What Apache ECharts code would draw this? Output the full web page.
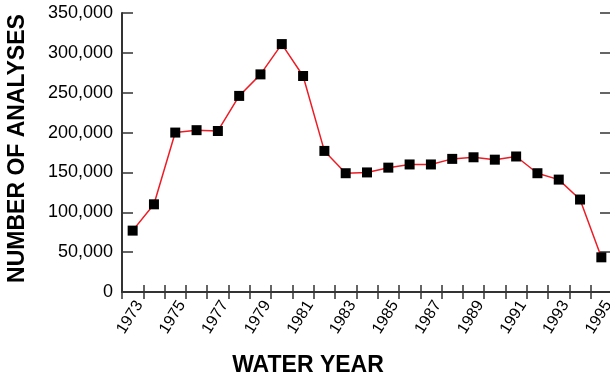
<!DOCTYPE html>
<html>
<head>
<meta charset="utf-8">
<script src="https://cdn.jsdelivr.net/npm/echarts@6/dist/echarts.min.js"></script>
<style>
  html, body { margin: 0; padding: 0; background: #fff; }
  #chart { width: 610px; height: 376px; }
</style>
</head>
<body>
<div id="chart"></div>
<script>
// water years 1973..1995
var years = ["1973", "1974", "1975", "1976", "1977", "1978", "1979", "1980",
  "1981", "1982", "1983", "1984", "1985", "1986", "1987", "1988", "1989",
  "1990", "1991", "1992", "1993", "1994", "1995"];
// number of analyses per year
var analyses = [77000, 110000, 200000, 203000, 202000, 246000, 273000, 311000,
  271000, 177000, 149000, 150000, 156000, 160000, 160000, 167000, 169000,
  166000, 170000, 149000, 141000, 116000, 43500];

var font = "'Liberation Sans', Arial, sans-serif";
var frame = { show: true, lineStyle: { color: "#333", width: 2 } };

var myChart = echarts.init(document.getElementById("chart"));
myChart.setOption({
  animation: false,
  grid: { left: 122, right: -2, top: 13, bottom: 84, outerBoundsMode: "none", containLabel: false },
  xAxis: [
    {
      type: "category",
      data: years,
      position: "bottom",
      name: "WATER YEAR",
      nameLocation: "middle",
      nameGap: 62,
      nameTextStyle: {
        fontFamily: font, fontSize: 23, fontWeight: "bold", color: "#000",
        padding: [0, 118, 0, 0] // title is centred on the page, not on the plot
      },
      axisLine: frame,
      axisTick: { show: true, inside: true, length: 7, interval: 0, lineStyle: { color: "#333", width: 1.5 } },
      axisLabel: {
        interval: 1, rotate: 58, margin: 6, verticalAlign: "top",
        fontFamily: font, fontSize: 16, color: "#000"
      }
    },
    {
      type: "category",
      data: years,
      position: "top",
      axisLine: frame,
      axisTick: { show: true, inside: true, length: 7, interval: 0, lineStyle: { color: "#333", width: 1.5 } },
      axisLabel: { show: false }
    }
  ],
  yAxis: [
    {
      type: "value",
      min: 0,
      max: 350000,
      interval: 50000,
      position: "left",
      name: "NUMBER OF ANALYSES",
      nameLocation: "middle",
      nameGap: 93,
      nameTextStyle: {
        fontFamily: font, fontSize: 23, fontWeight: "bold", color: "#000",
        padding: [0, 0, 0, 8]
      },
      splitLine: { show: false },
      axisLine: frame,
      axisTick: { show: true, inside: true, length: 11, lineStyle: { color: "#333", width: 1.5 } },
      axisLabel: {
        margin: 9, fontFamily: font, fontSize: 18, color: "#000",
        formatter: function (v) { return v.toLocaleString("en-US"); }
      }
    },
    {
      type: "value",
      min: 0,
      max: 350000,
      interval: 50000,
      position: "right",
      splitLine: { show: false },
      axisLine: frame,
      axisTick: { show: true, inside: true, length: 12, lineStyle: { color: "#333", width: 1.5 } },
      axisLabel: { show: false }
    }
  ],
  series: [
    {
      type: "line",
      data: analyses,
      symbol: "rect",
      symbolSize: 10,
      itemStyle: { color: "#000" },
      lineStyle: { color: "#ee1c25", width: 1.5 }
    }
  ]
});
</script>
</body>
</html>
